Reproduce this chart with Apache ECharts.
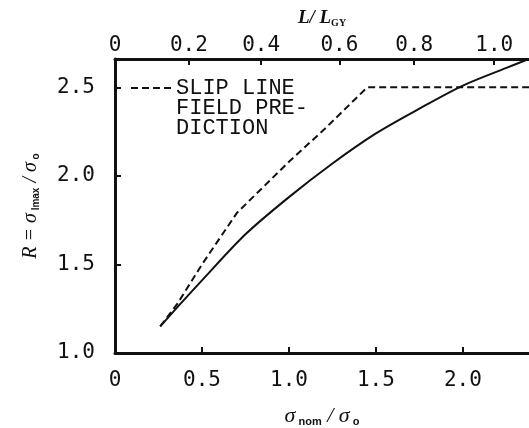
<!DOCTYPE html>
<html>
<head>
<meta charset="utf-8">
<script src="https://cdn.jsdelivr.net/npm/echarts@6/dist/echarts.min.js"></script>
<style>
  html, body { margin: 0; padding: 0; background: #fff; }
  #chart { width: 529px; height: 428px; }
</style>
</head>
<body>
<div id="chart"></div>
<script>
// sigma_nom / sigma_0 vs R
const solidX = [0.26, 0.36, 0.5, 0.75, 1.0, 1.25, 1.5, 1.75, 2.0, 2.25, 2.38];
const solidY = [1.15, 1.26, 1.41, 1.67, 1.88, 2.07, 2.24, 2.38, 2.51, 2.61, 2.66];
const slipX = [0.26, 0.36, 0.5, 0.7, 1.0, 1.2, 1.45, 2.38];
const slipY = [1.15, 1.28, 1.5, 1.79, 2.08, 2.26, 2.5, 2.5];

const bottomTicks = [0, 0.5, 1.0, 1.5, 2.0];
const leftTicks = [1.0, 1.5, 2.0, 2.5];
// top axis L/L_GY, positioned in sigma units (non linear)
const topTickPos = [0, 0.425, 0.84, 1.29, 1.72, 2.18];
const topTickLabels = ["0", "0.2", "0.4", "0.6", "0.8", "1.0"];

const pairs = (xs, ys) => xs.map((x, i) => [x, ys[i]]);
const labelFont = { color: "#111", fontFamily: "DejaVu Sans Mono", fontSize: 21 };
const axisLine = { show: true, lineStyle: { color: "#111", width: 3 } };

const chart = echarts.init(document.getElementById("chart"));
const option = {
  backgroundColor: "#fff",
  animation: false,
  grid: { left: 115, right: 0, top: 59, bottom: 75, outerBoundsMode: "none" },
  legend: {
    data: ["slip"],
    left: 125,
    top: 32,
    itemWidth: 40,
    itemHeight: 10,
    itemGap: 2,
    itemStyle: { opacity: 0 },
    formatter: () => "\n\nSLIP LINE\nFIELD PRE-\nDICTION",
    textStyle: {
      color: "#111",
      fontFamily: "Liberation Mono",
      fontSize: 22,
      lineHeight: 20,
    },
  },
  xAxis: [
    {
      type: "value",
      min: 0,
      max: 2.38,
      position: "bottom",
      axisLine: axisLine,
      splitLine: { show: false },
      axisTick: { inside: true, length: 6, customValues: bottomTicks, lineStyle: { color: "#111", width: 2 } },
      axisLabel: Object.assign({
        margin: 17,
        customValues: bottomTicks,
        formatter: (v) => (v === 0 ? "0" : v.toFixed(1)),
      }, labelFont),
      name: "{i|σ}{s| nom}{i| / σ}{s| o}",
      nameLocation: "middle",
      nameGap: 52,
      nameTextStyle: {
        rich: {
          i: { fontFamily: "Liberation Serif", fontStyle: "italic", fontSize: 22, color: "#111", verticalAlign: "bottom", lineHeight: 22 },
          s: { fontFamily: "Liberation Sans", fontWeight: "bold", fontSize: 11, color: "#111", verticalAlign: "bottom", lineHeight: 16 },
        },
      },
    },
    {
      type: "value",
      min: 0,
      max: 2.38,
      position: "top",
      axisLine: axisLine,
      splitLine: { show: false },
      axisTick: { inside: true, length: 6, customValues: topTickPos.slice(1), lineStyle: { color: "#111", width: 2 } },
      axisLabel: Object.assign({
        margin: 3,
        customValues: topTickPos,
        formatter: (v) => {
          let best = 0;
          topTickPos.forEach((p, i) => {
            if (Math.abs(p - v) < Math.abs(topTickPos[best] - v)) best = i;
          });
          return topTickLabels[best];
        },
      }, labelFont),
      name: "{i|L/ L}{s|GY}",
      nameLocation: "middle",
      nameGap: 31,
      nameTextStyle: {
        rich: {
          i: { fontFamily: "Liberation Serif", fontStyle: "italic", fontWeight: "bold", fontSize: 19, color: "#111", verticalAlign: "bottom", lineHeight: 19 },
          s: { fontFamily: "Liberation Serif", fontWeight: "bold", fontSize: 10, color: "#111", verticalAlign: "bottom", lineHeight: 16 },
        },
      },
    },
  ],
  yAxis: {
    type: "value",
    min: 1.0,
    max: 2.66,
    axisLine: axisLine,
    splitLine: { show: false },
    axisTick: { inside: true, length: 6, customValues: leftTicks, lineStyle: { color: "#111", width: 2 } },
    axisLabel: Object.assign({
      margin: 20,
      customValues: leftTicks,
      formatter: (v) => v.toFixed(1),
    }, labelFont),
    name: "{i|R = σ}{s| lmax}{i| / σ}{s| o}",
    nameLocation: "middle",
    nameGap: 74,
    nameTextStyle: {
      rich: {
        i: { fontFamily: "Liberation Serif", fontStyle: "italic", fontSize: 20, color: "#111", verticalAlign: "bottom", lineHeight: 20 },
        s: { fontFamily: "Liberation Sans", fontWeight: "bold", fontSize: 10, color: "#111", verticalAlign: "bottom", lineHeight: 14 },
      },
    },
  },
  series: [
    {
      name: "measured",
      type: "line",
      data: pairs(solidX, solidY),
      smooth: 0.3,
      showSymbol: false,
      lineStyle: { color: "#111", width: 2 },
    },
    {
      name: "slip",
      type: "line",
      data: pairs(slipX, slipY),
      showSymbol: false,
      symbol: "none",
      lineStyle: { color: "#111", width: 2, type: [7, 4] },
      itemStyle: { color: "#111" },
    },
  ],
};
chart.setOption(option);
</script>
</body>
</html>
